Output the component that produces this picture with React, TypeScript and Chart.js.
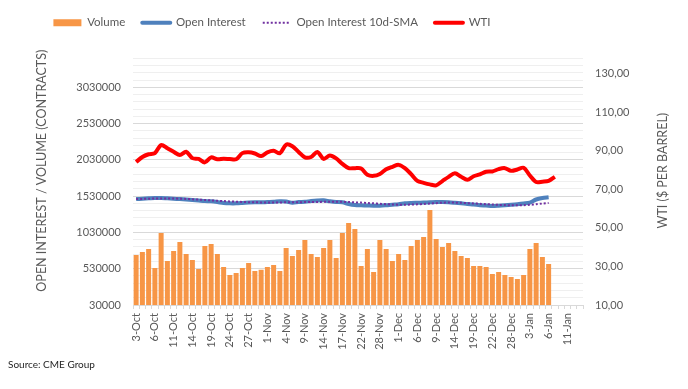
import React, { useEffect, useRef } from 'react';
import { Chart, registerables } from 'chart.js';

Chart.register(...registerables);

const DATES = [
  '3-Oct', '4-Oct', '5-Oct', '6-Oct', '7-Oct', '10-Oct', '11-Oct', '12-Oct', '13-Oct', '14-Oct',
  '17-Oct', '18-Oct', '19-Oct', '20-Oct', '21-Oct', '24-Oct', '25-Oct', '26-Oct', '27-Oct', '28-Oct', '31-Oct',
  '1-Nov', '2-Nov', '3-Nov', '4-Nov', '7-Nov', '8-Nov', '9-Nov', '10-Nov', '11-Nov', '14-Nov',
  '15-Nov', '16-Nov', '17-Nov', '18-Nov', '21-Nov', '22-Nov', '23-Nov', '25-Nov', '28-Nov', '29-Nov', '30-Nov',
  '1-Dec', '2-Dec', '5-Dec', '6-Dec', '7-Dec', '8-Dec', '9-Dec', '12-Dec', '13-Dec', '14-Dec',
  '15-Dec', '16-Dec', '19-Dec', '20-Dec', '21-Dec', '22-Dec', '23-Dec', '27-Dec', '28-Dec', '29-Dec', '30-Dec',
  '3-Jan', '4-Jan', '5-Jan', '6-Jan', '9-Jan', '10-Jan', '11-Jan', '12-Jan', '13-Jan',
];

const VOLUME = [
  719000, 760000, 802000, 540000, 1022000, 636000, 774000, 898000, 733000, 650000,
  526000, 843000, 871000, 733000, 554000, 443000, 471000, 540000, 609000, 498000,
  516000, 554000, 581000, 498000, 815000, 705000, 788000, 926000, 733000, 691000,
  815000, 926000, 678000, 1022000, 1160000, 1077000, 567000, 802000, 485000, 926000,
  802000, 636000, 733000, 650000, 843000, 926000, 967000, 1339000, 939000, 829000,
  884000, 774000, 705000, 678000, 567000, 567000, 554000, 457000, 485000, 443000,
  416000, 388000, 443000, 802000, 884000, 691000, 595000,
];

const OPEN_INTEREST = [
  1490000, 1495000, 1500000, 1505000, 1505000, 1500000, 1495000, 1490000, 1484000, 1477000,
  1470000, 1463000, 1459000, 1449000, 1436000, 1431000, 1431000, 1436000, 1442000, 1445000,
  1445000, 1449000, 1452000, 1459000, 1456000, 1439000, 1449000, 1452000, 1463000, 1470000,
  1472000, 1459000, 1449000, 1445000, 1422000, 1408000, 1404000, 1401000, 1398000, 1398000,
  1404000, 1412000, 1419000, 1431000, 1436000, 1439000, 1442000, 1445000, 1448000, 1449000,
  1446000, 1439000, 1431000, 1422000, 1415000, 1405000, 1400000, 1394000, 1398000, 1404000,
  1411000, 1419000, 1429000, 1442000, 1484000, 1504000, 1514000,
];

const OI_SMA = [
  1490000, 1492000, 1495000, 1497000, 1498000, 1498000, 1497000, 1495000, 1492000, 1487000,
  1482000, 1477000, 1472000, 1467000, 1462000, 1458000, 1454000, 1450000, 1447000, 1445000,
  1444000, 1444000, 1444000, 1444000, 1445000, 1446000, 1447000, 1448000, 1449000, 1450000,
  1452000, 1453000, 1453000, 1452000, 1449000, 1445000, 1441000, 1436000, 1431000, 1425000,
  1420000, 1415000, 1413000, 1413000, 1414000, 1417000, 1422000, 1428000, 1434000, 1440000,
  1442000, 1441000, 1438000, 1434000, 1430000, 1425000, 1420000, 1415000, 1410000, 1407000,
  1405000, 1405000, 1406000, 1410000, 1418000, 1428000, 1436000,
];

const WTI = [
  84.2, 86.8, 88.2, 88.8, 93.0, 91.3, 89.5, 87.8, 89.5, 86.2,
  85.8, 84.0, 86.6, 85.6, 85.9, 85.7, 85.6, 88.8, 89.2, 88.6,
  87.3, 89.2, 90.0, 88.7, 93.2, 92.4, 89.4, 86.6, 86.8, 89.4,
  85.8, 87.6, 86.1, 83.2, 81.0, 81.0, 80.8, 77.6, 77.0, 78.0,
  80.4, 81.7, 82.7, 81.0, 77.9, 74.4, 73.4, 72.6, 72.1, 74.3,
  76.5, 78.3, 76.5, 75.0, 76.8, 77.8, 79.1, 79.3, 80.5, 81.0,
  79.6, 80.3, 81.2, 77.2, 73.8, 74.0, 74.4, 76.5,
];

const LEFT_TICK_LABELS = [30000, 530000, 1030000, 1530000, 2030000, 2530000, 3030000];
const RIGHT_TICK_LABELS = [10, 30, 50, 70, 90, 110, 130];

const LEFT_TITLE = 'OPEN INTEREST / VOLUME (CONTRACTS)';
const RIGHT_TITLE = 'WTI ($ PER BARREL)';

const LEFT_MIN = 30000;
const LEFT_MAX = 3430000;
const LEFT_MINOR_STEP = 100000;
const RIGHT_MIN = 10;
const RIGHT_MAX = 138;

const FONT = 'Lato, "Open Sans", sans-serif';
const TEXT = '#595959';
const LEGEND_SHIFT = 72;
const LEGEND_EXTRA = 19.8;

export default function App() {
  const ref = useRef<HTMLCanvasElement>(null);

  useEffect(() => {
    const minorTicks: number[] = [];
    for (let v = LEFT_MIN; v <= LEFT_MAX; v += LEFT_MINOR_STEP) minorTicks.push(v);

    const drawVerticalText = (ctx: any, text: string, x: number, y: number) => {
      ctx.save();
      ctx.font = `12.5px ${FONT}`;
      ctx.fillStyle = TEXT;
      ctx.textAlign = 'center';
      ctx.textBaseline = 'middle';
      ctx.translate(x, y);
      ctx.rotate(-Math.PI / 2);
      ctx.fillText(text, 0, 0);
      ctx.restore();
    };

    const layoutPlugin = {
      id: 'layoutTweaks',
      afterInit(chart: any) {
        const lg = chart.legend;
        if (lg) {
          const fit = lg.fit.bind(lg);
          lg.fit = function () {
            fit();
            this.height += LEGEND_EXTRA;
          };
        }
      },
      afterLayout(chart: any) {
        const lg = chart.legend;
        if (lg) {
          lg.left -= LEGEND_SHIFT;
          lg.right -= LEGEND_SHIFT;
        }
      },
      afterDraw(chart: any) {
        const ctx = chart.ctx;
        const area = chart.chartArea;
        const midY = (area.top + area.bottom) / 2 - 11;
        drawVerticalText(ctx, LEFT_TITLE, 42, midY);
        drawVerticalText(ctx, RIGHT_TITLE, 663, midY);
      },
    };

    const chart = new Chart(ref.current as HTMLCanvasElement, {
      type: 'bar',
      data: {
        labels: DATES,
        datasets: [
          {
            type: 'bar',
            label: 'Volume',
            data: VOLUME,
            backgroundColor: '#F79646',
            borderWidth: 0,
            yAxisID: 'y',
            order: 4,
            barPercentage: 0.8,
            categoryPercentage: 1,
          },
          {
            type: 'line',
            label: 'Open Interest',
            data: OPEN_INTEREST,
            borderColor: '#4F81BD',
            backgroundColor: '#4F81BD',
            borderWidth: 4,
            pointRadius: 0,
            tension: 0.3,
            yAxisID: 'y',
            order: 3,
          },
          {
            type: 'line',
            label: 'Open Interest 10d-SMA',
            data: OI_SMA,
            borderColor: '#7030A0',
            backgroundColor: '#7030A0',
            borderWidth: 2,
            borderDash: [2, 2],
            pointRadius: 0,
            tension: 0.3,
            yAxisID: 'y',
            order: 2,
          },
          {
            type: 'line',
            label: 'WTI',
            data: WTI,
            borderColor: '#FF0000',
            backgroundColor: '#FF0000',
            borderWidth: 4,
            pointRadius: 0,
            tension: 0.3,
            yAxisID: 'y1',
            order: 1,
          },
        ] as any,
      },
      options: {
        responsive: false,
        animation: false,
        devicePixelRatio: 1,
        layout: { padding: { top: 0, left: 0, right: 0, bottom: 0 } },
        plugins: {
          tooltip: { enabled: false },
          legend: {
            position: 'top',
            labels: {
              usePointStyle: true,
              pointStyleWidth: 28,
              boxHeight: 7,
              padding: 17,
              color: TEXT,
              font: { family: FONT, size: 11.5 },
              sort: (a: any, b: any) => a.datasetIndex - b.datasetIndex,
              generateLabels: (c: any) => {
                const items = (Chart.defaults.plugins.legend.labels as any).generateLabels(c);
                return items.map((it: any) => {
                  const ds: any = c.data.datasets[it.datasetIndex];
                  if (it.datasetIndex === 0) {
                    return { ...it, pointStyle: 'rect', lineWidth: 0, fillStyle: ds.backgroundColor };
                  }
                  return {
                    ...it,
                    pointStyle: 'line',
                    strokeStyle: ds.borderColor,
                    lineWidth: ds.borderWidth,
                    lineDash: ds.borderDash || [],
                    lineCap: it.datasetIndex === 2 ? 'butt' : 'round',
                  };
                });
              },
            },
          },
        },
        scales: {
          x: {
            type: 'category',
            offset: true,
            grid: {
              display: true,
              drawOnChartArea: false,
              drawTicks: true,
              tickLength: 4,
              tickColor: '#d9d9d9',
              offset: true,
            },
            border: { display: true, color: '#d9d9d9' },
            ticks: {
              autoSkip: false,
              minRotation: 90,
              maxRotation: 90,
              padding: 4,
              color: TEXT,
              font: { family: FONT, size: 11 },
              callback: (_v: any, i: number) => (i % 3 === 0 ? DATES[i] : ''),
            },
            afterFit: (s: any) => {
              s.height = 84;
            },
          },
          y: {
            position: 'left',
            min: LEFT_MIN,
            max: LEFT_MAX,
            afterBuildTicks: (s: any) => {
              s.ticks = minorTicks.map((v) => ({ value: v }));
            },
            grid: {
              drawTicks: false,
              color: (c: any) =>
                LEFT_TICK_LABELS.includes(c.tick && c.tick.value) ? '#d9d9d9' : '#efefef',
            },
            border: { display: false },
            ticks: {
              autoSkip: false,
              padding: 12,
              color: TEXT,
              font: { family: FONT, size: 11 },
              callback: (v: any) => (LEFT_TICK_LABELS.includes(v) ? String(v) : ''),
            },
            afterFit: (s: any) => {
              s.width = 133;
            },
          },
          y1: {
            position: 'right',
            min: RIGHT_MIN,
            max: RIGHT_MAX,
            afterBuildTicks: (s: any) => {
              s.ticks = RIGHT_TICK_LABELS.map((v) => ({ value: v }));
            },
            grid: { display: false, drawTicks: false },
            border: { display: false },
            ticks: {
              autoSkip: false,
              padding: 12,
              color: TEXT,
              font: { family: FONT, size: 11 },
              callback: (v: any) => Number(v).toFixed(2).replace('.', ','),
            },
            afterFit: (s: any) => {
              s.width = 105;
            },
          },
        },
      } as any,
      plugins: [layoutPlugin],
    });

    return () => chart.destroy();
  }, []);

  return (
    <div style={{ position: 'absolute', left: 0, top: 0, width: 688, height: 389, background: '#fff' }}>
      <canvas ref={ref} width={688} height={389} style={{ display: 'block' }} />
      <div
        style={{
          position: 'absolute',
          left: 8,
          top: 358,
          fontFamily: FONT,
          fontSize: 10,
          color: '#262626',
          whiteSpace: 'nowrap',
        }}
      >
        Source: CME Group
      </div>
    </div>
  );
}
